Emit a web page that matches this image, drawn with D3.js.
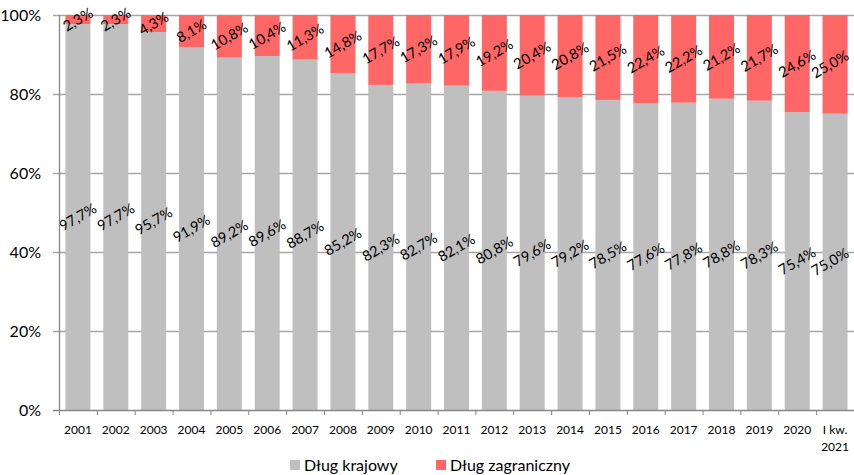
<!DOCTYPE html>
<html>
<head>
<meta charset="utf-8">
<script src="https://cdn.jsdelivr.net/npm/d3@7"></script>
<style>
  body { margin: 0; background: #fff; }
  svg text { font-family: Lato, "Open Sans", sans-serif; fill: #000; }
</style>
</head>
<body>
<svg id="chart" width="854" height="475"></svg>
<script>
// categories and series (share of total debt, %)
var years = ["2001","2002","2003","2004","2005","2006","2007","2008","2009","2010","2011",
  "2012","2013","2014","2015","2016","2017","2018","2019","2020","I kw.|2021"];
var krajowy = [97.7,97.7,95.7,91.9,89.2,89.6,88.7,85.2,82.3,82.7,82.1,80.8,79.6,79.2,78.5,77.6,77.8,78.8,78.3,75.4,75.0];
var zagraniczny = [2.3,2.3,4.3,8.1,10.8,10.4,11.3,14.8,17.7,17.3,17.9,19.2,20.4,20.8,21.5,22.4,22.2,21.2,21.7,24.6,25.0];
var yTicks = [0,20,40,60,80,100];
var seriesNames = ["Dług krajowy", "Dług zagraniczny"];
var colors = ["#bfbfbf", "#ff6666"];

var svg = d3.select("#chart"),
  margin = {top: 15, right: 0, bottom: 65, left: 59},
  width = +svg.attr("width") - margin.left - margin.right,
  height = +svg.attr("height") - margin.top - margin.bottom;

var g = svg.append("g").attr("transform", "translate(" + margin.left + "," + margin.top + ")");

var x = d3.scaleBand().domain(years).range([0, width]).paddingInner(0.34).paddingOuter(0.17);
var y = d3.scaleLinear().domain([0, 100]).range([height, 0]);

var fmt = function(v) { return d3.format(".1f")(v).replace(".", ",") + "%"; };

// gridlines
g.selectAll("line.grid")
  .data(yTicks.filter(function(d) { return d > 0; }))
  .enter().append("line")
  .attr("class", "grid")
  .attr("x1", -6).attr("x2", width)
  .attr("y1", function(d) { return y(d) + 0.5; })
  .attr("y2", function(d) { return y(d) + 0.5; })
  .attr("stroke", "#a6a6a6").attr("stroke-width", 1.3);

var rows = years.map(function(yr, i) { return {year: yr, k: krajowy[i], z: zagraniczny[i]}; });

// bars
g.selectAll("rect.k").data(rows).enter().append("rect")
  .attr("x", function(d) { return x(d.year); })
  .attr("width", x.bandwidth())
  .attr("y", function(d) { return y(d.k); })
  .attr("height", function(d) { return height - y(d.k); })
  .attr("fill", colors[0]);

g.selectAll("rect.z").data(rows).enter().append("rect")
  .attr("x", function(d) { return x(d.year); })
  .attr("width", x.bandwidth())
  .attr("y", function(d) { return y(100); })
  .attr("height", function(d) { return y(100 - d.z) - y(100); })
  .attr("fill", colors[1]);

// value labels, rotated; pushed left when they would leave the chart (like Excel)
var angle = -30, rad = Math.PI / 6;
function addLabels(acc, mid) {
  g.selectAll(null).data(rows).enter().append("text")
    .attr("text-anchor", "middle")
    .attr("dy", "0.35em")
    .style("font-size", "14.5px")
    .text(function(d) { return fmt(acc(d)); })
    .each(function(d) {
      var w = this.getComputedTextLength();
      var half = w / 2 * Math.cos(rad) + 7 * Math.sin(rad);
      var cx = Math.min(x(d.year) + x.bandwidth() / 2, width - 3 - half);
      d3.select(this).attr("transform", "translate(" + cx + "," + y(mid(d)) + ") rotate(" + angle + ")");
    });
}
addLabels(function(d) { return d.k; }, function(d) { return d.k / 2; });
addLabels(function(d) { return d.z; }, function(d) { return 100 - d.z / 2; });

// y axis
g.append("line").attr("x1", 0.5).attr("x2", 0.5).attr("y1", 0).attr("y2", height)
  .attr("stroke", "#868686").attr("stroke-width", 1.3);
g.selectAll("text.ytick").data(yTicks).enter().append("text")
  .attr("x", -18).attr("y", function(d) { return y(d); })
  .attr("dy", "0.35em").attr("text-anchor", "end")
  .style("font-size", "16px")
  .text(function(d) { return d + "%"; });

// x axis
g.append("line").attr("x1", -6).attr("x2", width).attr("y1", height + 0.5).attr("y2", height + 0.5)
  .attr("stroke", "#868686").attr("stroke-width", 1.3);
var step = x.step();
g.selectAll("line.xtick").data(d3.range(years.length + 1)).enter().append("line")
  .attr("x1", function(i) { return i * step + 0.5; })
  .attr("x2", function(i) { return i * step + 0.5; })
  .attr("y1", height).attr("y2", height + 5)
  .attr("stroke", "#868686");

g.selectAll("text.xtick").data(years).enter().append("text")
  .attr("x", function(d) { return x(d) + x.bandwidth() / 2; })
  .attr("y", height + 24)
  .attr("text-anchor", "middle")
  .style("font-size", "12px")
  .each(function(d) {
    var parts = d.split("|");
    var t = d3.select(this);
    parts.forEach(function(p, j) {
      t.append("tspan").attr("x", x(d) + x.bandwidth() / 2).attr("dy", j ? "1.45em" : 0).text(p);
    });
  });

// legend
var legend = svg.append("g").attr("transform", "translate(0,465)");
var legX = [290, 436];
seriesNames.forEach(function(name, i) {
  legend.append("rect").attr("x", legX[i]).attr("y", -5).attr("width", 10).attr("height", 10).attr("fill", colors[i]);
  legend.append("text").attr("x", legX[i] + 14).attr("y", 0).attr("dy", "0.35em")
    .style("font-size", "16px").text(name);
});
</script>
</body>
</html>
